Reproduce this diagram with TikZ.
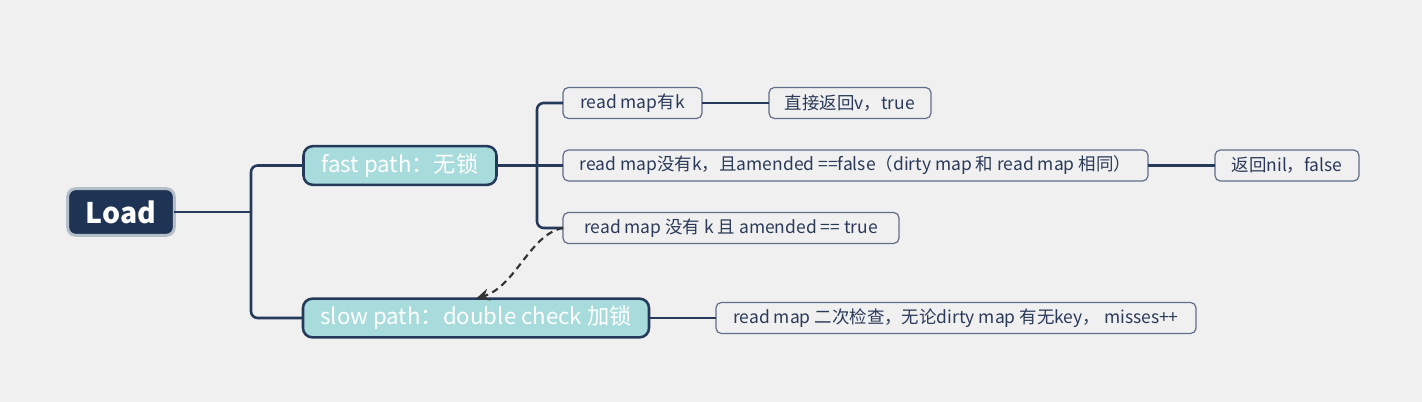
\documentclass[tikz,border=0pt]{standalone}
\usepackage{fontspec}
\setmainfont{Noto Sans CJK SC}
\usetikzlibrary{positioning,arrows.meta}
\definecolor{bgc}{HTML}{F0F0F0}
\definecolor{navy}{HTML}{1F3354}
\definecolor{linkc}{HTML}{25395A}
\definecolor{teal}{HTML}{A8DBDB}
\definecolor{leafc}{HTML}{5F6E89}
\definecolor{txtc}{HTML}{2A3A58}
\definecolor{greyb}{HTML}{B5BFC9}

\begin{document}
\begin{tikzpicture}
[x=0.75pt,y=-0.75pt,
 every node/.style={inner sep=0pt,outer sep=0pt},
 root/.style={rectangle,rounded corners=6pt,fill=navy,draw=greyb,line width=2.2pt,
   text=white,font=\fontsize{21.3}{25}\selectfont\bfseries,minimum width=80pt,minimum height=35pt},
 main/.style={rectangle,rounded corners=7pt,fill=teal,draw=linkc,line width=1.9pt,
   text=white,font=\fontsize{16.7}{20}\selectfont,minimum height=29pt},
 leaf/.style={rectangle,rounded corners=4pt,fill=bgc,draw=leafc,line width=0.9pt,anchor=west,
   text=txtc,font=\fontsize{13.1}{16}\selectfont,minimum height=23.25pt},
 link/.style={draw=linkc,line width=1.9pt,rounded corners=5pt},
 hint/.style={draw=black!80,line width=1.6pt,dash pattern=on 5pt off 3.5pt,
   -{Stealth[length=10pt,width=9pt]}}]
\fill[bgc] (0,0) rectangle (1422,402);

\node[root] (load) at (121,212)                          {Load};
\node[main,minimum width=144.75pt] (fast) at (400,165.5) {fast path：无锁};
\node[main,minimum width=259.5pt]  (slow) at (476,318)   {slow path：double check 加锁};

\node[leaf,minimum width=104.25pt] (hasK)   at (563,103) {read map有k};
\node[leaf,minimum width=438.75pt] (noKf)   at (563,165.5) {read map没有k，且amended ==false（dirty map 和 read map 相同）};
\node[leaf,minimum width=252pt]    (noKt)   at (563,228) {read map 没有 k 且 amended == true};
\node[leaf,minimum width=121.5pt]  (retV)   at (769,103) {直接返回v，true};
\node[leaf,minimum width=108pt]    (retNil) at (1215,165.5) {返回nil，false};
\node[leaf,minimum width=360pt]    (recheck) at (716,318) {read map 二次检查，无论dirty map 有无key， misses++};

\coordinate (jLoad) at (251,212);
\coordinate (jFast) at (537,165.5);

\draw[link] (load.east) -- (jLoad);
\draw[link] (jLoad) |- (fast.west);
\draw[link] (jLoad) |- (slow.west);
\draw[link] (fast.east) -- (noKf.west);
\draw[link] (jFast) |- (hasK.west);
\draw[link] (jFast) |- (noKt.west);
\path[link] (hasK)  edge (retV);
\path[link] (noKf)  edge (retNil);
\path[link] (slow)  edge (recheck);

\draw[hint] (noKt.west) .. controls (530,234) and (516,286) .. (slow.north);
\end{tikzpicture}
\end{document}
